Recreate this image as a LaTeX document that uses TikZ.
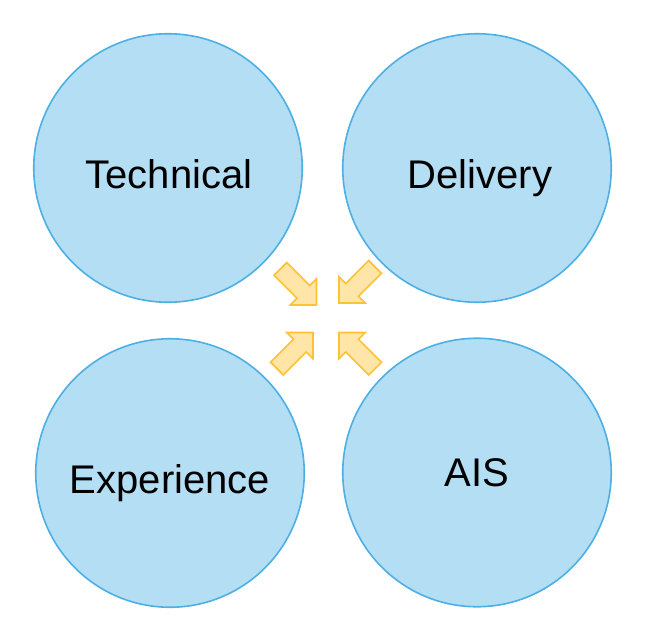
\documentclass[tikz,border=0pt]{standalone}
\usepackage{fontspec}
\setmainfont{Liberation Sans}
\usepackage{tikz}
\usetikzlibrary{positioning}
\definecolor{AREAfill}{HTML}{B4DEF4}
\definecolor{AREAline}{HTML}{4DAFE4}
\definecolor{PUSHfill}{HTML}{FFE6A8}
\definecolor{PUSHline}{HTML}{FFC235}

\begin{document}
\begin{tikzpicture}[x=1pt, y=1pt,
    area/.style={circle, draw=AREAline, fill=AREAfill, line width=1.6pt,
      minimum size=268.5pt, inner sep=0pt},
    areaname/.style={anchor=base, font=\fontsize{40}{48}\selectfont},
    push/.style={draw=PUSHline, fill=PUSHfill, line width=1.6pt, line join=miter}]
  \useasboundingbox (0,0) rectangle (647,622);
  % the four areas
  \node[area] (technical) at (168,454) {};
  \node[area] (delivery) at (477,454) {};
  \node[area] (experience) at (170,149) {};
  \node[area] (ais) at (477,149.5) {};
  \node[areaname] at ([xshift=1pt, yshift=-20.3pt]technical.center) {Technical};
  \node[areaname] at ([xshift=3pt, yshift=-20.3pt]delivery.center) {Delivery};
  \node[areaname] at ([yshift=-20pt]experience.center) {Experience};
  \node[areaname] at ([yshift=-14pt]ais.center) {AIS};
  % block arrows towards the middle
  \foreach \tx/\ty/\ang in {316.5/317/-45, 339/319/-135, 313/289.5/45, 339/289.5/135}
    \draw[push, shift={(\tx,\ty)}, rotate=\ang]
      (0,0) -- (-18.5,18.5) -- (-18.5,9) -- (-51,9) -- (-51,-9)
      -- (-18.5,-9) -- (-18.5,-18.5) -- cycle;
\end{tikzpicture}
\end{document}
